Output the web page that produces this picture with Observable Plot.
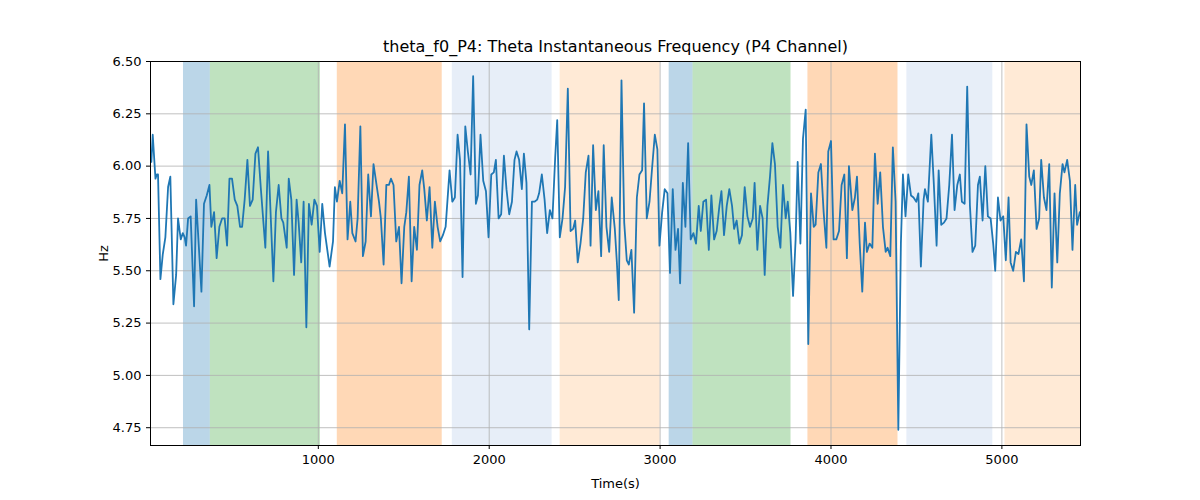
<!DOCTYPE html>
<html><head><meta charset="utf-8">
<script src="https://cdn.jsdelivr.net/npm/d3@7"></script>
<script src="https://cdn.jsdelivr.net/npm/@observablehq/plot@0.6"></script>
<style>body{margin:0;background:#fff;font-family:"DejaVu Sans",sans-serif}</style>
</head><body><div id="chart"></div>
<script>
const times = [23,31,47,55,62,76,90,105,121,134,152,168,179,195,207,218,226,238,253,273,285,316,331,347,363,374,390,405,421,437,452,466,480,495,511,526,542,554,569,585,600,616,632,647,663,690,706,737,752,768,784,795,815,827,842,858,873,885,900,914,
930,945,961,977,992,1008,1023,1039,1066,1086,1097,1109,1125,1140,1156,1171,1187,1199,1218,1230,1246,1261,1277,1292,1308,1323,1339,1355,1366,1382,1398,1413,1425,1440,1456,1472,1487,1503,1515,1530,1546,1561,1577,1592,1608,1620,1635,1651,1667,1682,1698,1713,1729,1745,1768,1784,1799,1815,
1829,1844,1860,1875,1891,1906,1922,1934,1949,1965,1981,1996,2012,2027,2039,2055,2070,2086,2101,2117,2133,2148,2160,2175,2191,2203,2218,2234,2250,2265,2281,2292,2308,2324,2339,2355,2370,2386,2398,2413,2429,2444,2460,2476,2491,2503,2518,2534,2550,2565,2581,2593,2608,2624,2639,2655,2670,2686,2702,2717,
2735,2747,2758,2774,2790,2805,2817,2832,2848,2864,2879,2895,2906,2922,2938,2953,2969,2984,2996,3012,3027,3043,3058,3074,3090,3105,3117,3133,3148,3164,3179,3195,3210,3226,3238,3253,3269,3285,3300,3316,3331,3347,3359,3374,3390,3405,3421,3433,3448,3464,3479,3495,3511,3526,3542,3553,3569,3585,3600,3612,3628,3643,
3657,3672,3688,3704,3719,3735,3747,3762,3778,3793,3805,3821,3836,3852,3867,3883,3899,3910,3926,3941,3957,3973,3984,4000,4015,4031,4047,4062,4078,4093,4105,4125,4140,4152,4168,4183,4199,4210,4226,4242,4257,4273,4288,4304,4320,4331,4347,4362,4378,4394,4409,4421,4436,4452,4468,4483,4499,4511,4526,4542,4550,
4567,4587,4602,4618,4630,4645,4661,4676,4692,4708,4723,4739,4754,4766,4782,4797,4813,4828,4844,4860,4871,4887,4903,4918,4934,4949,4961,4977,4992,5008,5023,5039,5051,5066,5082,5097,5113,5129,5144,5160,5172,5187,5203,5218,5230,5246,5261,5277,5292,5308,5324,5339,5355,5366,5382,5398,5413,5429,5440,5456];
const values = [6.02,6.15,5.94,5.96,5.96,5.46,5.58,5.66,5.90,5.95,5.34,5.48,5.75,5.65,5.68,5.66,5.62,5.75,5.76,5.33,5.84,5.40,5.82,5.86,5.91,5.71,5.78,5.56,5.71,5.75,5.75,5.62,5.94,5.94,5.84,5.81,5.71,5.71,5.84,6.03,5.81,5.84,6.06,6.09,5.90,5.61,6.07,5.45,5.78,5.91,5.75,5.73,5.61,5.94,5.84,5.48,5.84,5.73,5.54,5.83,
5.23,5.82,5.72,5.84,5.81,5.59,5.82,5.68,5.52,5.64,5.90,5.83,5.93,5.87,6.20,5.65,5.83,5.68,5.64,5.75,6.19,5.57,5.64,5.96,5.76,6.01,5.92,5.83,5.75,5.53,5.91,5.91,5.94,5.91,5.64,5.71,5.44,5.71,5.78,5.95,5.45,5.71,5.60,5.91,5.98,5.89,5.74,5.90,5.61,5.83,5.71,5.64,5.67,5.71,5.98,5.83,5.85,6.15,
6.03,5.47,6.19,6.07,5.96,6.43,5.82,5.86,6.15,5.93,5.88,5.66,5.96,5.97,6.03,5.75,5.77,6.05,5.89,5.77,5.83,6.03,6.07,6.03,5.89,6.06,5.92,5.22,5.83,5.83,5.84,5.87,5.96,5.84,5.68,5.79,5.75,6.04,6.22,5.66,5.75,5.90,6.37,5.69,5.70,5.74,5.54,5.63,5.75,5.97,6.05,5.62,6.10,5.79,5.88,5.57,6.10,5.71,5.59,5.85,
5.70,5.54,5.36,6.41,5.73,5.55,5.53,5.60,5.30,5.85,5.96,5.98,6.30,5.75,5.83,5.99,6.15,6.08,5.62,5.78,5.89,5.87,5.49,5.89,5.60,5.70,5.44,5.92,5.71,6.11,5.65,5.68,5.63,5.81,5.69,5.83,5.84,5.60,5.86,5.65,5.69,5.81,5.88,5.67,5.81,5.89,5.81,5.70,5.74,5.63,5.67,5.90,5.76,5.71,5.75,5.92,5.60,5.81,5.75,5.48,5.81,5.95,
6.11,6.01,5.71,5.61,5.91,5.75,5.83,5.68,5.38,5.65,6.02,5.63,6.13,6.27,5.15,5.87,5.71,5.72,5.97,6.01,5.78,5.61,6.07,6.12,5.65,5.65,5.69,5.91,5.96,5.56,6.00,5.79,5.85,5.95,5.63,5.40,5.73,5.59,5.63,5.61,6.06,5.82,5.97,5.71,5.59,5.61,5.57,6.09,5.83,4.74,5.63,5.96,5.76,5.96,5.86,5.85,5.83,5.87,5.52,5.84,5.89,
5.83,6.15,5.91,5.62,5.98,5.72,5.73,5.75,5.91,6.15,5.79,5.91,5.96,5.83,5.82,6.38,5.81,5.59,5.62,5.91,5.95,5.74,6.00,5.76,5.75,5.63,5.50,5.85,5.74,5.76,5.55,5.85,5.54,5.50,5.59,5.58,5.65,5.45,6.20,5.95,5.91,5.98,5.70,5.75,6.03,5.85,5.79,6.01,5.42,5.87,5.54,5.87,6.01,5.97,6.03,5.93,5.60,5.91,5.72,5.78];

const spanStart = [211,368,1111,1784,2415,3053,3193,3865,4444,5018];
const spanEnd   = [368,1012,1725,2368,3000,3193,3766,4392,4947,5460];
const spanKind  = ["a","b","c","d","e","a","b","c","d","e"];
const kindColor = {a:"#1f77b4",b:"#2ca02c",c:"#ff7f0e",d:"#aec7e8",e:"#ffbb78"};
const xTicks = [1000,2000,3000,4000,5000];
const yTicks = [4.75,5.00,5.25,5.50,5.75,6.00,6.25,6.50];

const series = times.map((t,i)=>({t, v: values[i]}));
const spans = spanStart.map((s,i)=>({x1:s, x2:spanEnd[i], k:spanKind[i]}));

const chart = Plot.plot({
  width: 1200, height: 500,
  marginLeft: 150, marginRight: 120, marginTop: 61, marginBottom: 55,
  style: {fontFamily: "DejaVu Sans, sans-serif", fontSize: "13px", color: "#000", background: "#fff"},
  x: {domain: [18, 5460], ticks: xTicks, tickFormat: d => String(d), label: "Time(s)", labelAnchor: "center", labelArrow: "none", labelOffset: 42, tickSize: 4},
  y: {domain: [4.665, 6.5], ticks: yTicks, tickFormat: d => d.toFixed(2), label: "Hz", labelAnchor: "center", labelArrow: "none", labelOffset: 52, tickSize: 4},
  marks: [
    Plot.rectX(spans, {x1:"x1", x2:"x2", y1: 4.665, y2: 6.5, fill: d => kindColor[d.k], fillOpacity: 0.3}),
    Plot.gridX(xTicks, {stroke: "#b0b0b0", strokeOpacity: 1, strokeWidth: 0.8}),
    Plot.gridY(yTicks, {stroke: "#b0b0b0", strokeOpacity: 1, strokeWidth: 0.8}),
    Plot.line(series, {x: "t", y: "v", stroke: "#1f77b4", strokeWidth: 1.8}),
    Plot.frame({stroke: "#000", strokeWidth: 1}),
    Plot.text(["theta_f0_P4: Theta Instantaneous Frequency (P4 Channel)"], {frameAnchor: "top", dy: -21, fontSize: 16, fill: "#000"})
  ]
});
document.getElementById("chart").appendChild(chart);
</script></body></html>
